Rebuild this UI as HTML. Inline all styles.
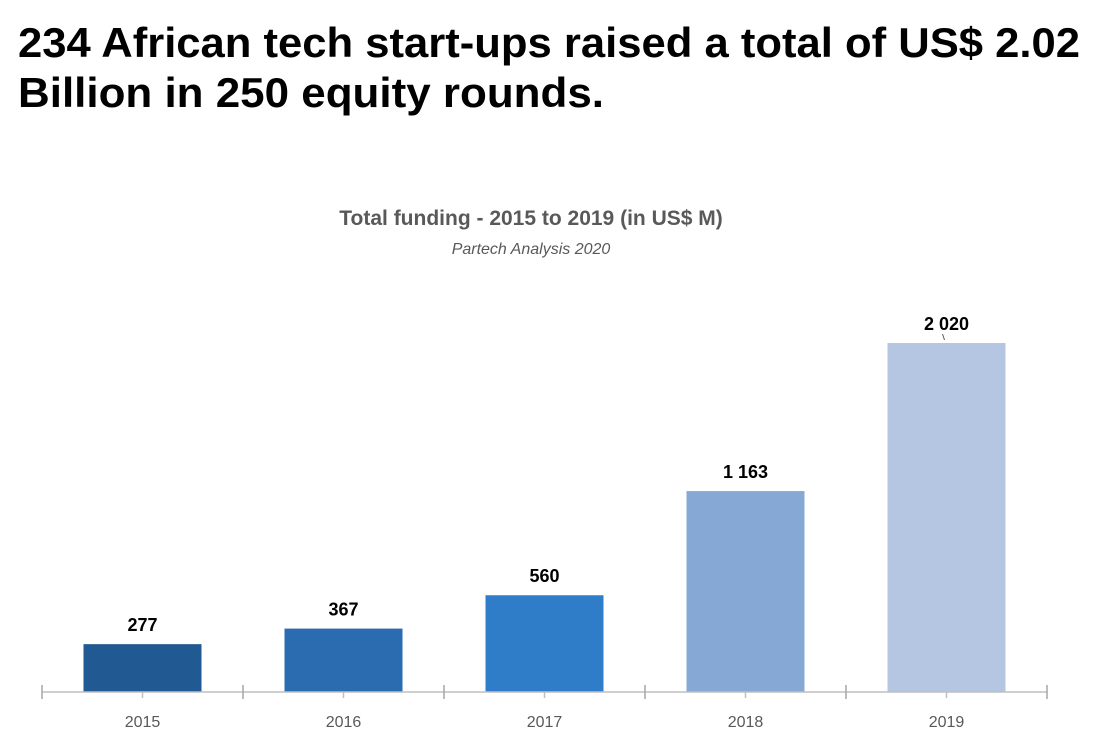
<!DOCTYPE html>
<html><head><meta charset="utf-8"><style>
html,body{margin:0;padding:0;background:#fff;width:1106px;height:750px;overflow:hidden}
svg{display:block;font-family:"Liberation Sans",sans-serif}
</style></head><body>
<svg id="chart" width="1106" height="750">
<text x="18" y="57" font-size="42" font-weight="bold" fill="#000" textLength="1062" lengthAdjust="spacingAndGlyphs">234 African tech start-ups raised a total of US$ 2.02</text>
<text x="18" y="107" font-size="42" font-weight="bold" fill="#000" textLength="586" lengthAdjust="spacingAndGlyphs">Billion in 250 equity rounds.</text>
<text x="531" y="225" font-size="21" font-weight="bold" fill="#595959" text-anchor="middle">Total funding - 2015 to 2019  (in US$ M)</text>
<text x="531" y="254" font-size="16" font-style="italic" fill="#595959" text-anchor="middle">Partech Analysis 2020</text>
<g id="bars"></g>
</svg>
<script>
const categories=["2015","2016","2017","2018","2019"];
const values=[277,367,560,1163,2020];
const valueLabels=["277","367","560","1 163","2 020"];
const colors=["#215a92","#2b6cb0","#2f7dc8","#86a8d5","#b4c6e2"];
const svg=document.getElementById('chart');
const g=document.getElementById('bars');
const NS="http://www.w3.org/2000/svg";
const x0=42,band=201,base=692,scale=349/2020,bw=118;
function xC(i){return x0+band*(i+0.5);}
function yV(v){return base-v*scale;}
function mk(t,a){const e=document.createElementNS(NS,t);for(const k in a)e.setAttribute(k,a[k]);g.appendChild(e);return e;}
categories.forEach((c,i)=>{
 const r=mk('rect',{x:xC(i)-bw/2,y:yV(values[i]),width:bw,height:base-yV(values[i]),fill:colors[i]});
 
 
 const t=mk('text',{x:xC(i),y:yV(values[i])-13,'font-size':18,'font-weight':'bold','text-anchor':'middle',fill:'#000'});
 t.textContent=valueLabels[i];
 
 
 const l=mk('text',{x:xC(i),y:base+35,'font-size':16,'text-anchor':'middle',fill:'#595959'});
 l.textContent=c;
 
 
 const mt=mk('line',{x1:xC(i),x2:xC(i),y1:base,y2:base+6,stroke:'#bfbfbf','stroke-width':1.5});
 
 
});
const ax=mk('line',{x1:x0,x2:x0+band*categories.length,y1:base,y2:base,stroke:'#bfbfbf','stroke-width':1.5});


for(let i=0;i<=categories.length;i++){
 const tk=mk('line',{x1:x0+band*i,x2:x0+band*i,y1:base-7,y2:base+7,stroke:'#a6a6a6','stroke-width':1.5});
 
 
}
const ld=mk('line',{x1:xC(4)-2,y1:yV(values[4])-3,x2:xC(4)-4,y2:yV(values[4])-9,stroke:'#595959','stroke-width':1});


</script>
</body></html>
